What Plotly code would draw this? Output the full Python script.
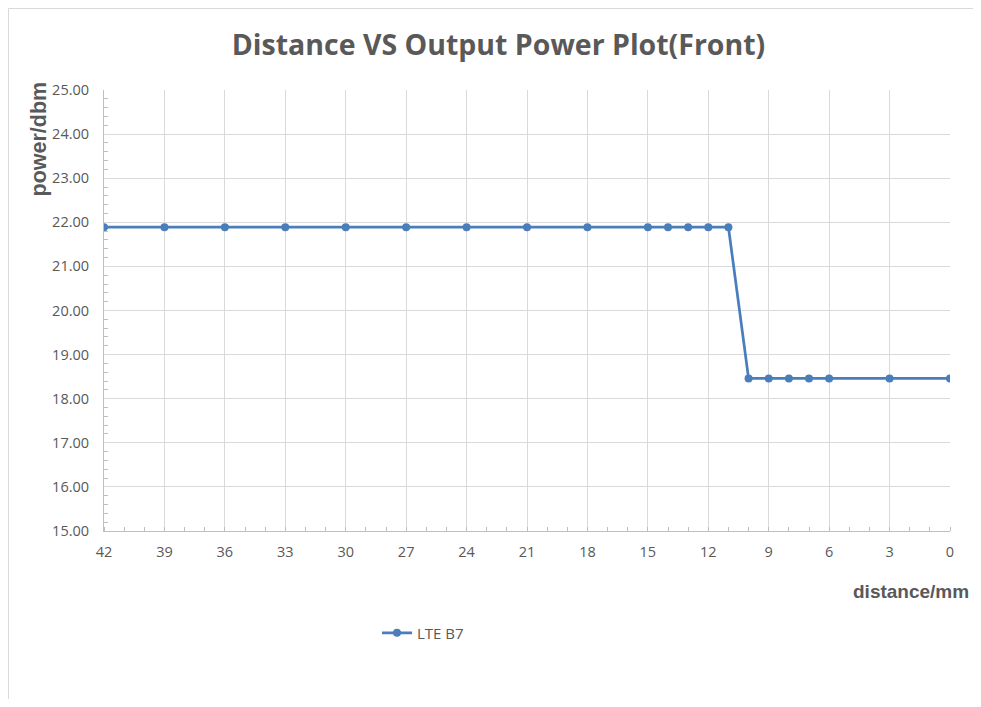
import plotly.graph_objects as go

distance_mm = [42, 39, 36, 33, 30, 27, 24, 21, 18, 15, 14, 13, 12, 11, 10, 9, 8, 7, 6, 3, 0]
power_dbm = [21.89, 21.89, 21.89, 21.89, 21.89, 21.89, 21.89, 21.89, 21.89, 21.89, 21.89, 21.89, 21.89, 21.89,
             18.46, 18.46, 18.46, 18.46, 18.46, 18.46, 18.46]
x_ticks = [42, 39, 36, 33, 30, 27, 24, 21, 18, 15, 12, 9, 6, 3, 0]
series_name = "LTE B7"

line_color = "#4a7ebb"
grid = "#d9d9d9"
text_gray = "#595959"

W, H = 973, 691
ML, MR, MT, MB = 96, 31, 82, 168
PW, PH = W - ML - MR, H - MT - MB

fig = go.Figure()
fig.add_trace(go.Scatter(
    x=distance_mm, y=power_dbm, mode="lines+markers", name=series_name,
    line=dict(color=line_color, width=2.75),
    marker=dict(color=line_color, size=8, symbol="circle"),
))

fig.update_layout(
    width=W, height=H,
    margin=dict(l=ML, r=MR, t=MT, b=MB, autoexpand=False),
    paper_bgcolor="white", plot_bgcolor="white",
    font=dict(family="Open Sans, DejaVu Sans, sans-serif", color=text_gray, size=13),
    title=dict(text="<b>Distance VS Output Power Plot(Front)</b>", xref="paper", x=(498.5 - 104) / PW,
               xanchor="center", yref="container", y=1 - 37 / H, yanchor="middle",
               font=dict(size=28.5, color=text_gray, family="Open Sans, sans-serif")),
    showlegend=True,
    legend=dict(x=(377 - 104) / PW, y=(531 - 633) / PH, xanchor="left", yanchor="middle",
                orientation="h", font=dict(size=15, color=text_gray), bgcolor="rgba(0,0,0,0)",
                itemwidth=30),
    xaxis=dict(
        range=[42, 0], tickmode="array", tickvals=x_ticks, ticktext=[str(v) for v in x_ticks],
        showgrid=True, gridcolor=grid, gridwidth=1,
        showline=True, linecolor="#bfbfbf", linewidth=1,
        ticks="", zeroline=False,
        minor=dict(dtick=1, ticks="inside", ticklen=4, tickcolor="#bfbfbf", showgrid=False),
        tickfont=dict(size=14.5, color=text_gray), ticklabelstandoff=8,
    ),
    yaxis=dict(
        range=[15, 25], dtick=1, tickformat=".2f",
        showgrid=True, gridcolor=grid, gridwidth=1,
        showline=True, linecolor="#bfbfbf", linewidth=1,
        ticks="", zeroline=False,
        minor=dict(dtick=0.2, ticks="inside", ticklen=4, tickcolor="#bfbfbf", showgrid=False),
        tickfont=dict(size=14.5, color=text_gray), ticklabelstandoff=11,
    ),
    annotations=[
        dict(text="<b>power/dbm</b>", xref="paper", yref="paper", x=(38 - 104) / PW, y=(531 - 80) / PH,
             xanchor="center", yanchor="top", textangle=-90, showarrow=False,
             font=dict(size=21.5, color=text_gray, family="Liberation Sans, Arial, sans-serif")),
        dict(text="<b>distance/mm</b>", xref="paper", yref="paper", x=(971 - 104) / PW, y=(531 - 591) / PH,
             xanchor="right", yanchor="middle", showarrow=False,
             font=dict(size=19, color=text_gray, family="Liberation Sans, Arial, sans-serif")),
    ],
    shapes=[
        dict(type="line", xref="paper", yref="paper",
             x0=-(ML - 0.5) / PW, x1=(W - ML) / PW, y0=1 + (MT - 0.5) / PH, y1=1 + (MT - 0.5) / PH,
             line=dict(color="#d9d9d9", width=1)),
        dict(type="line", xref="paper", yref="paper",
             x0=-(ML - 0.5) / PW, x1=-(ML - 0.5) / PW, y0=1 + (MT - 0.5) / PH, y1=-MB / PH,
             line=dict(color="#d9d9d9", width=1)),
    ],
)

fig.write_html("out.html")
